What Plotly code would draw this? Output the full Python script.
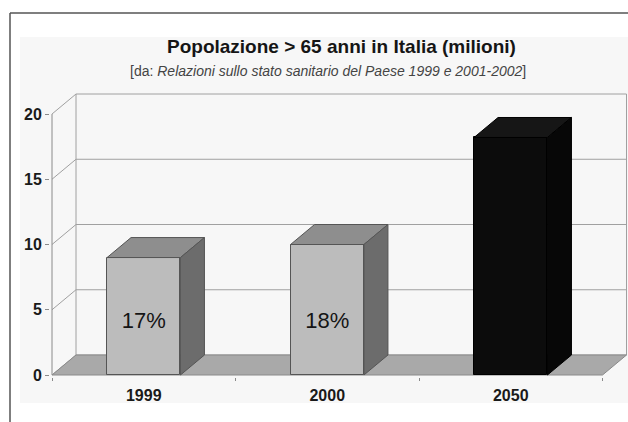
import plotly.graph_objects as go

# ---------------- data ----------------
YEARS = ["1999", "2000", "2050"]
VALUES = [9.0, 10.0, 18.2]            # millions of people aged > 65
SHARE_LABELS = ["17%", "18%", ""]
Y_TICKS = [0, 5, 10, 15, 20]

TITLE = "Popolazione > 65 anni in Italia (milioni)"
SUBTITLE = "[da: <i>Relazioni sullo stato sanitario del Paese 1999 e 2001-2002</i>]"

# ---------------- style ----------------
FACE_FRONT = ["#bcbcbc", "#bcbcbc", "#0c0c0c"]
FACE_TOP = ["#8e8e8e", "#8e8e8e", "#161616"]
FACE_SIDE = ["#6c6c6c", "#6c6c6c", "#070707"]
EDGE = ["#555555", "#555555", "#000000"]
FONT = "Liberation Sans, Arial, sans-serif"

W, H = 628, 422
ML, MR, MT, MB = 50, 0, 80, 45
PX_X = 183.5     # pixels per category
PX_Y = 13.05     # pixels per million
DEPTH_PX = (24, 20)
BAR_W = 0.4
LABEL_Y = 4.0

dx = DEPTH_PX[0] / PX_X
dy = DEPTH_PX[1] / PX_Y
x_lo = -0.5 - 2 / PX_X
x_rng = [x_lo, x_lo + (W - ML - MR) / PX_X]
y_lo = -2 / PX_Y
y_rng = [y_lo, y_lo + (H - MT - MB) / PX_Y]

n = len(YEARS)
xs = list(range(n))
left, right = -0.5, n - 0.5
top = max(Y_TICKS)

fig = go.Figure()

# front faces of the columns
fig.add_trace(go.Bar(
    x=xs, y=VALUES, width=BAR_W,
    marker=dict(color=FACE_FRONT, line=dict(color=EDGE, width=1)),
    hoverinfo="skip", showlegend=False,
))

# top and side faces
for i, v in enumerate(VALUES):
    a, b = i - BAR_W / 2, i + BAR_W / 2
    fig.add_trace(go.Scatter(
        x=[a, a + dx, b + dx, b, a], y=[v, v + dy, v + dy, v, v],
        mode="lines", fill="toself", fillcolor=FACE_TOP[i],
        line=dict(color=EDGE[i], width=1), hoverinfo="skip", showlegend=False))
    fig.add_trace(go.Scatter(
        x=[b, b + dx, b + dx, b, b], y=[0, dy, v + dy, v, 0],
        mode="lines", fill="toself", fillcolor=FACE_SIDE[i],
        line=dict(color=EDGE[i], width=1), hoverinfo="skip", showlegend=False))

# share labels
fig.add_trace(go.Scatter(
    x=xs, y=[LABEL_Y] * n, text=SHARE_LABELS, mode="text",
    textfont=dict(family=FONT, size=22, color="#151515"),
    hoverinfo="skip", showlegend=False))

# ---------------- walls / floor (shapes below traces) ----------------
shapes = []
# background panel
shapes.append(dict(type="rect", xref="paper", yref="paper",
                   x0=(20 - ML) / (W - ML - MR), x1=1.0,
                   y0=1 - (403 - MT) / (H - MT - MB), y1=1 + (MT - 37) / (H - MT - MB),
                   fillcolor="#f7f7f7", line=dict(width=0), layer="below"))
grid = dict(color="#a0a0a0", width=1)
for t in Y_TICKS:
    shapes.append(dict(type="path", xref="x", yref="y", layer="below",
                       path=f"M {left},{t} L {left + dx},{t + dy} L {right + dx},{t + dy}",
                       line=grid))
shapes.append(dict(type="line", xref="x", yref="y", layer="below",
                   x0=left + dx, y0=dy, x1=left + dx, y1=top + dy, line=grid))
shapes.append(dict(type="line", xref="x", yref="y", layer="below",
                   x0=right + dx, y0=dy, x1=right + dx, y1=top + dy, line=grid))
shapes.append(dict(type="line", xref="x", yref="y", layer="below",
                   x0=left, y0=0, x1=left, y1=top, line=dict(color="#8a8a8a", width=1)))
# floor
shapes.append(dict(type="path", xref="x", yref="y", layer="below",
                   path=f"M {left},0 L {left + dx},{dy} L {right + dx},{dy} L {right},0 Z",
                   fillcolor="#a9a9a9", line=dict(color="#8a8a8a", width=1)))

# outer frame lines
fx = (10 - ML) / (W - ML - MR)
fy_top = 1 + (MT - 13) / (H - MT - MB)
fy_bot = 1 - (H - MT) / (H - MT - MB)
shapes.append(dict(type="line", xref="paper", yref="paper", x0=fx, x1=fx,
                   y0=fy_bot, y1=fy_top, line=dict(color="#555555", width=1.5)))
shapes.append(dict(type="line", xref="paper", yref="paper", x0=fx, x1=1.0,
                   y0=fy_top, y1=fy_top, line=dict(color="#555555", width=1.5)))

annotations = [
    dict(text=f"<b>{TITLE}</b>", xref="paper", yref="paper",
         x=(341 - ML) / (W - ML - MR), y=1 + (MT - 47) / (H - MT - MB),
         xanchor="center", yanchor="middle", showarrow=False,
         font=dict(family=FONT, size=19, color="#151515")),
    dict(text=SUBTITLE, xref="paper", yref="paper",
         x=(328 - ML) / (W - ML - MR), y=1 + (MT - 71) / (H - MT - MB),
         xanchor="center", yanchor="middle", showarrow=False,
         font=dict(family=FONT, size=14, color="#444444")),
]

fig.update_layout(
    width=W, height=H, autosize=False,
    margin=dict(l=ML, r=MR, t=MT, b=MB, pad=0),
    paper_bgcolor="white", plot_bgcolor="rgba(0,0,0,0)",
    shapes=shapes, annotations=annotations, showlegend=False,
    bargap=0,
    xaxis=dict(range=x_rng, tickvals=xs, ticktext=YEARS, showgrid=False,
               zeroline=False, showline=False, ticks="", ticklabelstandoff=7,
               minor=dict(ticks="outside", tick0=0.5, dtick=1, ticklen=3,
                          tickcolor="#8a8a8a", showgrid=False),
               tickfont=dict(family=FONT, size=16, color="#1a1a1a", weight="bold"),
               fixedrange=True),
    yaxis=dict(range=y_rng, tickvals=Y_TICKS, showgrid=False, zeroline=False,
               showline=False, ticks="outside", ticklen=4, tickcolor="#8a8a8a",
               tickfont=dict(family=FONT, size=16, color="#1a1a1a", weight="bold"),
               fixedrange=True),
)

fig.write_html("out.html")
